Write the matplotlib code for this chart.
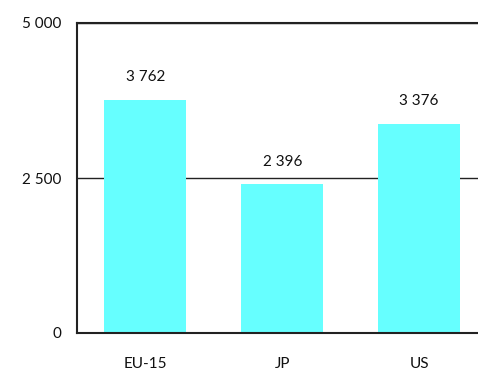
import matplotlib

matplotlib.use("Agg")

import matplotlib.pyplot as plt
from matplotlib.ticker import FuncFormatter

regions = ["EU-15", "JP", "US"]
values = [3762, 2396, 3376]
y_ticks = [0, 2500, 5000]


def spaced(v, _pos=None):
    return f"{int(v):,}".replace(",", " ")


plt.rcParams["font.family"] = ["Lato", "DejaVu Sans"]

fig = plt.figure(figsize=(4.78, 3.70), dpi=100)
ax = fig.add_axes([77 / 478, 37 / 370, 401 / 478, 310 / 370])

x = range(len(values))
bars = ax.bar(x, values, width=0.6, color="#66FFFF", zorder=2)
for bar, v in zip(bars, values):
    ax.text(bar.get_x() + bar.get_width() / 2, v + 360, spaced(v),
            ha="center", va="center", fontsize=11, color="#111111")

ax.set_xlim(-0.5, 2.43)
ax.set_ylim(0, 5000)
ax.set_yticks(y_ticks)
ax.yaxis.set_major_formatter(FuncFormatter(spaced))
ax.set_xticks(list(x))
ax.set_xticklabels(regions)
ax.tick_params(length=0, labelsize=11, colors="#111111")
ax.tick_params(axis="y", pad=11)
ax.tick_params(axis="x", pad=17)
ax.yaxis.grid(True, color="#222222", linewidth=1.0, zorder=1)

ax.spines["right"].set_visible(False)
for side in ("left", "bottom", "top"):
    ax.spines[side].set_color("#222222")
    ax.spines[side].set_linewidth(1.5)

fig.savefig("out.png", dpi=100)
